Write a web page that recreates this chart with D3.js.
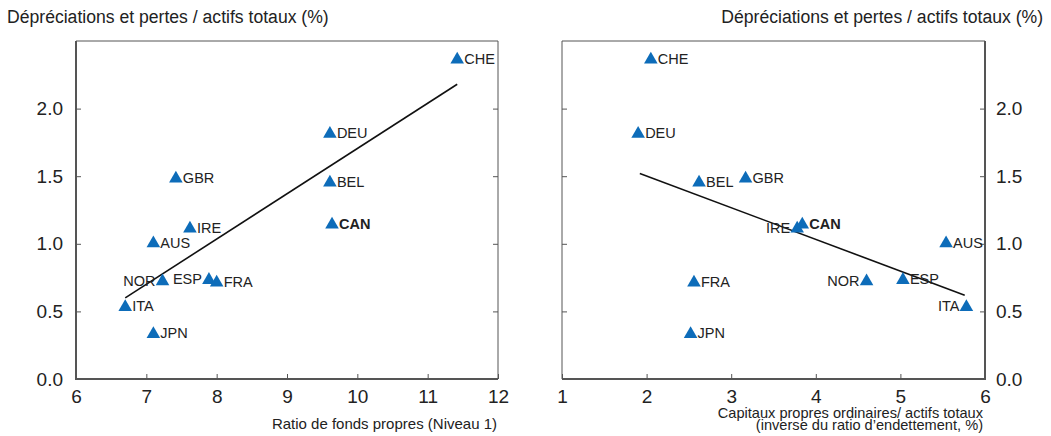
<!DOCTYPE html>
<html>
<head>
<meta charset="utf-8">
<script src="https://cdn.jsdelivr.net/npm/d3@7"></script>
<style>
  html, body { margin: 0; padding: 0; background: #fff; }
  svg { display: block; font-family: "Liberation Sans", Arial, Helvetica, sans-serif; }
</style>
</head>
<body>
<svg id="chart" width="1051" height="436"></svg>
<script>
// ---- Data ----
const countries = ["CHE", "DEU", "BEL", "GBR", "CAN", "IRE", "AUS", "NOR", "ESP", "FRA", "ITA", "JPN"];
const impairments = [2.37, 1.82, 1.46, 1.49, 1.15, 1.12, 1.01, 0.73, 0.74, 0.72, 0.54, 0.34];
const tier1Ratio   = [11.42, 9.61, 9.61, 7.42, 9.64, 7.62, 7.10, 7.23, 7.89, 8.00, 6.70, 7.10];
const equityAssets = [2.05, 1.90, 2.62, 3.17, 3.84, 3.78, 5.54, 4.60, 5.03, 2.56, 5.78, 2.52];
// label side in each panel: "r" = right of marker, "l" = left of marker
const labelSideLeft  = ["r", "r", "r", "r", "r", "r", "r", "l", "l", "r", "r", "r"];
const labelSideRight = ["r", "r", "r", "r", "r", "l", "r", "l", "r", "r", "l", "r"];
const trendLeft  = [[6.70, 0.60], [11.42, 2.18]];
const trendRight = [[1.92, 1.52], [5.76, 0.62]];
const xTicksLeft  = [6, 7, 8, 9, 10, 11, 12];
const xTicksRight = [1, 2, 3, 4, 5, 6];
const yTicks = [0.0, 0.5, 1.0, 1.5, 2.0];
const yTitle = "Dépréciations et pertes / actifs totaux (%)";
const xTitleLeft = ["Ratio de fonds propres (Niveau 1)"];
const xTitleRight = ["Capitaux propres ordinaires/ actifs totaux", "(inverse du ratio d’endettement, %)"];

// ---- Layout ----
const svg = d3.select("#chart");
const blue = "#0d6cb9";
const frameColor = "#555";
const textColor = "#222";
const plotTop = 41, plotBottom = 379;

const y = d3.scaleLinear().domain([0, 2.5]).range([plotBottom, plotTop]);

function panel(cfg) {
  const x = d3.scaleLinear().domain(cfg.xDomain).range(cfg.xRange);
  const g = svg.append("g");
  const [x0, x1] = cfg.xRange;

  // frame: top & far side thinner
  g.append("line").attr("x1", x0).attr("x2", x1).attr("y1", plotTop).attr("y2", plotTop)
    .attr("stroke", frameColor).attr("stroke-width", 1);
  const fx = cfg.yLabelsRight ? x0 : x1;
  g.append("line").attr("x1", fx).attr("x2", fx)
    .attr("y1", plotTop).attr("y2", plotBottom).attr("stroke", frameColor).attr("stroke-width", 1);
  g.append("line").attr("x1", x0).attr("x2", x1).attr("y1", plotBottom).attr("y2", plotBottom)
    .attr("stroke", frameColor).attr("stroke-width", 2);
  const ax = cfg.yLabelsRight ? x1 : x0;
  g.append("line").attr("x1", ax).attr("x2", ax).attr("y1", plotTop).attr("y2", plotBottom + 1)
    .attr("stroke", frameColor).attr("stroke-width", 2);

  // x axis (ticks inward)
  const xAxis = g.append("g").attr("transform", `translate(0,${plotBottom})`)
    .call(d3.axisBottom(x).tickValues(cfg.xTicks).tickSize(-5).tickPadding(11).tickFormat(d3.format("d")));
  xAxis.select(".domain").remove();
  xAxis.selectAll("line").attr("stroke", frameColor);
  xAxis.selectAll("text").attr("font-size", 19).attr("fill", textColor)
    .attr("font-family", "Liberation Sans, Arial, sans-serif");

  // y ticks both sides (inward)
  const yAxisL = g.append("g").attr("transform", `translate(${x0},0)`)
    .call(d3.axisLeft(y).tickValues(yTicks).tickSize(-5).tickPadding(13).tickFormat(d3.format(".1f")));
  const yAxisR = g.append("g").attr("transform", `translate(${x1},0)`)
    .call(d3.axisRight(y).tickValues(yTicks).tickSize(-5).tickPadding(11).tickFormat(d3.format(".1f")));
  [yAxisL, yAxisR].forEach(a => {
    a.select(".domain").remove();
    a.selectAll("line").attr("stroke", frameColor);
    a.selectAll("text").attr("font-size", 19).attr("fill", textColor)
      .attr("font-family", "Liberation Sans, Arial, sans-serif");
  });
  (cfg.yLabelsRight ? yAxisL : yAxisR).selectAll("text").remove();

  // trend line
  g.append("path")
    .datum(cfg.trend)
    .attr("d", d3.line().x(d => x(d[0])).y(d => y(d[1])))
    .attr("fill", "none").attr("stroke", "#111").attr("stroke-width", 1.6);

  // markers
  const pts = countries.map((c, i) => ({ c, xv: cfg.xVals[i], yv: impairments[i], side: cfg.sides[i] }));
  const tri = d3.symbol().type(d3.symbolTriangle).size(80);
  g.selectAll(".pt").data(pts).enter().append("path")
    .attr("d", tri)
    .attr("transform", d => `translate(${x(d.xv)},${y(d.yv) + 1})`)
    .attr("fill", blue);

  g.selectAll(".lbl").data(pts).enter().append("text")
    .attr("x", d => x(d.xv) + (d.side === "r" ? 7 : -7))
    .attr("y", d => y(d.yv))
    .attr("dy", "0.36em")
    .attr("text-anchor", d => d.side === "r" ? "start" : "end")
    .attr("font-size", 14.5)
    .attr("font-weight", d => d.c === "CAN" ? "bold" : "normal")
    .attr("fill", textColor)
    .text(d => d.c);

  // x title
  const xt = g.append("text").attr("text-anchor", "end").attr("font-size", cfg.xTitleSize).attr("fill", textColor);
  cfg.xTitle.forEach((t, i) => {
    xt.append("tspan").attr("x", cfg.xTitleX).attr("y", cfg.xTitleY + i * 12.5).text(t);
  });
}

panel({
  xDomain: [6, 12], xRange: [76, 498], xTicks: xTicksLeft, xVals: tier1Ratio,
  sides: labelSideLeft, trend: trendLeft, yLabelsRight: false,
  xTitle: xTitleLeft, xTitleX: 497, xTitleY: 429, xTitleSize: 15
});
panel({
  xDomain: [1, 6], xRange: [562, 985], xTicks: xTicksRight, xVals: equityAssets,
  sides: labelSideRight, trend: trendRight, yLabelsRight: true,
  xTitle: xTitleRight, xTitleX: 983, xTitleY: 417.5, xTitleSize: 14.6
});

// y titles
svg.append("text").attr("x", 7).attr("y", 23).attr("font-size", 17.6).attr("fill", textColor).text(yTitle);
svg.append("text").attr("x", 1043).attr("y", 23).attr("text-anchor", "end").attr("font-size", 17.6).attr("fill", textColor).text(yTitle);
</script>
</body>
</html>
